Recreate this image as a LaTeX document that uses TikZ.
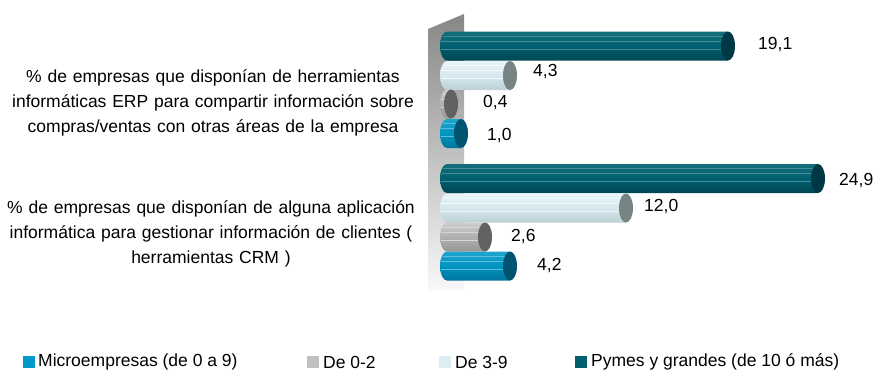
\documentclass[tikz,border=0pt]{standalone}
\usepackage{fontspec}
\setmainfont{Liberation Sans}
\definecolor{wallTop}{RGB}{135,135,135}
\definecolor{wallBot}{RGB}{248,248,248}
\definecolor{tealT}{RGB}{20,110,124}
\definecolor{tealM}{RGB}{0,96,112}
\definecolor{tealB}{RGB}{0,70,84}
\definecolor{tealS}{RGB}{70,140,152}
\definecolor{tealC}{RGB}{0,56,70}
\definecolor{liteT}{RGB}{232,245,249}
\definecolor{liteM}{RGB}{214,232,238}
\definecolor{liteB}{RGB}{188,208,214}
\definecolor{liteS}{RGB}{240,250,252}
\definecolor{liteC}{RGB}{118,132,132}
\definecolor{grayT}{RGB}{205,205,205}
\definecolor{grayM}{RGB}{176,176,176}
\definecolor{grayB}{RGB}{150,150,150}
\definecolor{grayS}{RGB}{215,215,215}
\definecolor{grayC}{RGB}{98,98,98}
\definecolor{blueT}{RGB}{30,165,205}
\definecolor{blueM}{RGB}{0,148,192}
\definecolor{blueB}{RGB}{0,118,158}
\definecolor{blueS}{RGB}{90,190,220}
\definecolor{blueC}{RGB}{0,84,112}
\definecolor{legMicro}{RGB}{0,153,204}
\definecolor{legSmall}{RGB}{192,192,192}
\definecolor{legMid}{RGB}{220,238,244}
\definecolor{legBig}{RGB}{0,96,112}
% #1 y-centre, #2 right end, #3 colour prefix
\newcommand\cylbar[3]{%
  \shade[top color=#3T, bottom color=#3B, middle color=#3M]
    (447,{#1-14.5}) -- ({#2-7},{#1-14.5}) -- ({#2-7},{#1+14.5}) -- (447,{#1+14.5})
    arc[start angle=270, end angle=90, x radius=7bp, y radius=14.5bp] -- cycle;
  \draw[#3S, line width=0.7bp] (443,{#1-10}) -- ({#2-7},{#1-10});
  \draw[#3S, line width=0.7bp] (441,{#1-5}) -- ({#2-7},{#1-5});
  \draw[#3S, line width=0.7bp] (441,{#1+3}) -- ({#2-7},{#1+3});
  \fill[#3C] ({#2-7},#1) ellipse[x radius=7bp, y radius=14.5bp];
}
\tikzset{
  vallabel/.style={anchor=west, inner sep=0pt},
  cattext/.style={anchor=base, inner sep=0pt, text width=420bp, align=center},
  legbox/.style={minimum size=12bp, inner sep=0pt, draw=none},
  legtext/.style={anchor=west, inner sep=0pt},
}
\begin{document}
\begin{tikzpicture}[x=1bp, y=-1bp, font=\fontsize{17.5bp}{25bp}\selectfont]
\useasboundingbox (0,0) rectangle (875,370);
% back wall
\shade[top color=wallTop, bottom color=wallBot]
  (428,29) -- (464,14) -- (464,290) -- (428,290) -- cycle;
% group 1
\cylbar{46}{735}{teal}
\cylbar{75.5}{517}{lite}
\cylbar{104}{458}{gray}
\cylbar{133.5}{468}{blue}
% group 2
\cylbar{178.5}{825}{teal}
\cylbar{208}{633}{lite}
\cylbar{237}{492}{gray}
\cylbar{266}{517}{blue}
% value labels
\node[vallabel] (v1) at (758,45) {19,1};
\node[vallabel] (v2) at (533,72) {4,3};
\node[vallabel] (v3) at (483,102.5) {0,4};
\node[vallabel] (v4) at (487,136) {1,0};
\node[vallabel] (v5) at (839,180.5) {24,9};
\node[vallabel] (v6) at (644,206.5) {12,0};
\node[vallabel] (v7) at (511,236.5) {2,6};
\node[vallabel] (v8) at (537,266) {4,2};
% category texts
\node[cattext] (c1) at (213,82) {\% de empresas que disponían de herramientas\\informáticas ERP para compartir información sobre\\compras/ventas con otras áreas de la empresa};
\node[cattext] (c2) at (211,213) {\% de empresas que disponían de alguna aplicación\\informática para gestionar información de clientes (\\herramientas CRM )};
% legend
\node[legbox, fill=legMicro] (l1) at (29,362) {};
\node[legtext] (t1) at (38,362) {Microempresas (de 0 a 9)};
\node[legbox, fill=legSmall] (l2) at (313,362) {};
\node[legtext] (t2) at (323,362) {De 0-2};
\node[legbox, fill=legMid] (l3) at (444.5,362) {};
\node[legtext] (t3) at (455,362) {De 3-9};
\node[legbox, fill=legBig] (l4) at (580.5,362) {};
\node[legtext] (t4) at (591,362) {Pymes y grandes (de 10 ó más)};
\end{tikzpicture}
\end{document}
